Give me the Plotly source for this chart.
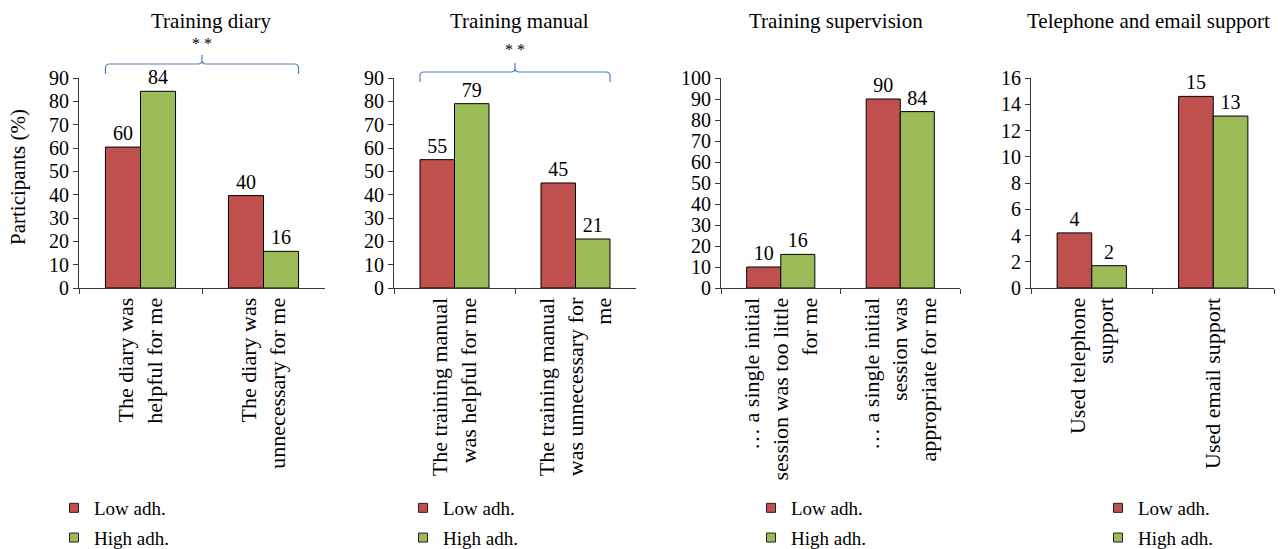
import plotly.graph_objects as go

W, H = 1282, 549

titles = ["Training diary", "Training manual", "Training supervision", "Telephone and email support"]
categories = [
    ["The diary was<br>helpful for me", "The diary was<br>unnecessary for me"],
    ["The training manual<br>was helpful for me", "The training manual<br>was unnecessary for<br>me"],
    ["\u2026 a single initial<br>session was too little<br>for me", "\u2026 a single initial<br>session was<br>appropriate for me"],
    ["Used telephone<br>support", "Used email support"],
]
low_values = [[60.4, 39.6], [55, 45], [10, 90], [4.2, 14.6]]
high_values = [[84.3, 15.7], [79, 21], [16, 84], [1.7, 13.1]]
low_labels = [["60", "40"], ["55", "45"], ["10", "90"], ["4", "15"]]
high_labels = [["84", "16"], ["79", "21"], ["16", "84"], ["2", "13"]]
y_max = [90, 90, 100, 16]
y_dtick = [10, 10, 10, 2]
significance = ["* *", "* *", None, None]
series_names = ["Low adh.", "High adh."]
series_colors = ["#C0504D", "#9BBB59"]
y_title = "Participants (%)"

BLUE = "#4F81BD"
AXIS = "#3a3a3a"
FONT = "Liberation Serif"

# pixel layout
x_dom_px = [(79, 325), (394, 636), (721, 960), (1031, 1274)]
title_x_px = [211, 519, 836, 1148]
y_top_px, y_bot_px = 78, 288
legend_x_px = [54, 403, 751, 1098]
bracket_h_px = [64, 72]
star_px = [43, 50]


def px(p):
    return p / W


def py(p):
    return 1 - p / H


fig = go.Figure()
shapes = []
annotations = []
bargap = 0.43

for i in range(4):
    xa = "x" if i == 0 else f"x{i+1}"
    ya = "y" if i == 0 else f"y{i+1}"
    leg = "legend" if i == 0 else f"legend{i+1}"
    for name, vals, labs, col in [(series_names[0], low_values[i], low_labels[i], series_colors[0]),
                                  (series_names[1], high_values[i], high_labels[i], series_colors[1])]:
        fig.add_trace(go.Bar(
            x=categories[i], y=vals, name=name, text=labs,
            textposition="outside", cliponaxis=False,
            textfont=dict(family=FONT, size=20, color="black"),
            marker=dict(color=col, line=dict(color="black", width=1)),
            xaxis=xa, yaxis=ya, showlegend=False,
        ))
    # legend entries (small square keys)
    for name, col in zip(series_names, series_colors):
        fig.add_trace(go.Scatter(
            x=[None], y=[None], mode="markers", name=name,
            marker=dict(symbol="square", size=9, color=col, line=dict(color="#222", width=1)),
            xaxis=xa, yaxis=ya, legend=leg, legendgroup=f"{leg}{name}", showlegend=True,
        ))
    d0, d1 = px(x_dom_px[i][0]), px(x_dom_px[i][1])
    axkw = dict(domain=[d0, d1], showline=True, linecolor=AXIS, linewidth=1,
                ticks="outside", ticklen=5, tickcolor=AXIS, tickson="boundaries",
                tickangle=-90, tickfont=dict(family=FONT, size=22, color="black"),
                ticklabelstandoff=0,
                showgrid=False, anchor=ya, type="category", automargin=False,
                categoryorder="array", categoryarray=categories[i])
    aykw = dict(domain=[py(y_bot_px), py(y_top_px)], range=[0, y_max[i]], dtick=y_dtick[i],
                showline=True, linecolor=AXIS, linewidth=1, ticks="outside", ticklen=5,
                tickcolor=AXIS, tickfont=dict(family=FONT, size=20, color="black"),
                showgrid=False, zeroline=False, anchor=xa, automargin=False)
    fig.update_layout(**{("xaxis" if i == 0 else f"xaxis{i+1}"): axkw,
                         ("yaxis" if i == 0 else f"yaxis{i+1}"): aykw})

    # title
    annotations.append(dict(text=titles[i], x=px(title_x_px[i]), y=py(21), xref="paper", yref="paper",
                            showarrow=False, font=dict(family=FONT, size=21, color="black"),
                            xanchor="center", yanchor="middle"))

    # legend
    fig.update_layout(**{leg: dict(x=px(legend_x_px[i]), y=-8 / H, xanchor="left", yanchor="bottom",
                                   font=dict(family=FONT, size=19, color="black"),
                                   bgcolor="rgba(0,0,0,0)", tracegroupgap=2,
                                   itemwidth=30)})

    # significance bracket
    if significance[i]:
        n = len(categories[i])
        half = (1 - bargap) / 2
        xl = d0 + (0 + 0.5 - half) / n * (d1 - d0)
        xr = d0 + (n - 1 + 0.5 + half) / n * (d1 - d0)
        xc = (xl + xr) / 2
        yh = py(bracket_h_px[i])
        ye = py(bracket_h_px[i] + 10)
        yt = py(bracket_h_px[i] - 9)
        r = px(4)
        rv = 4 / H
        path = (f"M {xl} {ye} L {xl} {yh - rv} Q {xl} {yh} {xl + r} {yh} "
                f"L {xc - r} {yh} Q {xc} {yh} {xc} {yh + rv} L {xc} {yt} "
                f"M {xc} {yh + rv} Q {xc} {yh} {xc + r} {yh} "
                f"L {xr - r} {yh} Q {xr} {yh} {xr} {yh - rv} L {xr} {ye}")
        shapes.append(dict(type="path", path=path, xref="paper", yref="paper",
                           line=dict(color=BLUE, width=1.2)))
        annotations.append(dict(text=significance[i], x=xc, y=py(star_px[i]), xref="paper", yref="paper",
                                showarrow=False, font=dict(family=FONT, size=16, color="black"),
                                xanchor="center", yanchor="middle"))

# y-axis title of the first panel
annotations.append(dict(text=y_title, x=px(18), y=py(177), xref="paper", yref="paper",
                        textangle=-90, showarrow=False,
                        font=dict(family=FONT, size=21, color="black"),
                        xanchor="center", yanchor="middle"))

fig.update_layout(
    width=W, height=H, margin=dict(l=0, r=0, t=0, b=0, autoexpand=False),
    paper_bgcolor="white", plot_bgcolor="white",
    barmode="group", bargap=bargap, bargroupgap=0,
    shapes=shapes, annotations=annotations, showlegend=True,
    font=dict(family=FONT, color="black"),
)

fig.write_html("out.html", config={"displayModeBar": False},
               post_script="document.body.style.margin='0';document.body.style.overflow='hidden';")
